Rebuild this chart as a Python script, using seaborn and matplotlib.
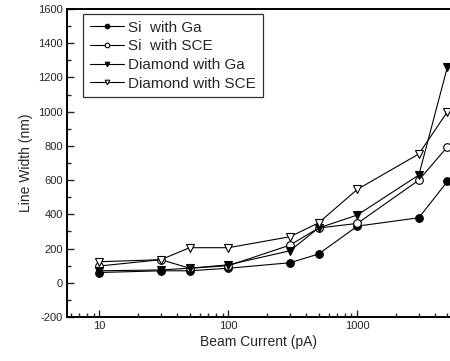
import matplotlib
matplotlib.use("Agg")
import matplotlib.pyplot as plt
import seaborn as sns
import pandas as pd
from matplotlib.ticker import MultipleLocator, LogLocator, NullFormatter, FixedLocator

beam_current = [10, 30, 50, 100, 300, 500, 1000, 3000, 5000]
si_ga = [60, 70, 70, 85, 117, 168, 331, 380, 593]
si_sce = [98, 135, 85, 100, 220, 320, 347, 600, 795]
dia_ga = [70, 75, 85, 105, 187, 320, 396, 630, 1263]
dia_sce = [123, 135, 205, 205, 269, 350, 546, 753, 1000]

series = [
    ("Si  with Ga", si_ga, "o", "black"),
    ("Si  with SCE", si_sce, "o", "white"),
    ("Diamond with Ga", dia_ga, "v", "black"),
    ("Diamond with SCE", dia_sce, "v", "white"),
]

sns.set_style("ticks")
plt.rcParams['font.family'] = ['Liberation Sans', 'DejaVu Sans']
plt.rcParams['axes.unicode_minus'] = False

fig = plt.figure(figsize=(4.5, 3.61), dpi=100)
ax = fig.add_axes([67/450, 44/361, 383/450, 308/361])

for name, vals, mk, fc in series:
    df = pd.DataFrame({"x": beam_current, "y": vals})
    sns.lineplot(data=df, x="x", y="y", ax=ax, color="black", lw=0.8,
                 marker=mk, markersize=5.5, markerfacecolor=fc,
                 markeredgecolor="black", markeredgewidth=0.8, label=name)

ax.set_xscale("log")
ax.set_xlim(5.6, 5230)
ax.set_ylim(-200, 1600)
ax.yaxis.set_major_locator(MultipleLocator(200))
ax.yaxis.set_minor_locator(MultipleLocator(100))
ax.xaxis.set_major_locator(FixedLocator([10, 100, 1000]))
ax.xaxis.set_minor_locator(LogLocator(base=10, subs=range(2, 10), numticks=20))
ax.xaxis.set_minor_formatter(NullFormatter())
ax.set_xticklabels(["10", "100", "1000"])
ax.tick_params(direction="in", which="both", labelsize=8, width=1.0, pad=3)
ax.tick_params(which="major", length=5)
ax.tick_params(which="minor", length=3)
for s in ["left", "bottom", "top"]:
    ax.spines[s].set_linewidth(1.4)
    ax.spines[s].set_color("black")
ax.spines["right"].set_visible(False)

ax.set_xlabel("Beam Current (pA)", fontsize=10, labelpad=3)
ax.set_ylabel("Line Width (nm)", fontsize=10, labelpad=4)

leg = ax.legend(loc="upper left", fontsize=11, frameon=True, fancybox=False,
                edgecolor="black", handlelength=2.2, handletextpad=0.3,
                borderpad=0.45, labelspacing=0.3, markerscale=0.6,
                borderaxespad=0, bbox_to_anchor=(0.042, 0.984))
leg.get_frame().set_linewidth(0.9)

fig.savefig("out.png", dpi=100)
